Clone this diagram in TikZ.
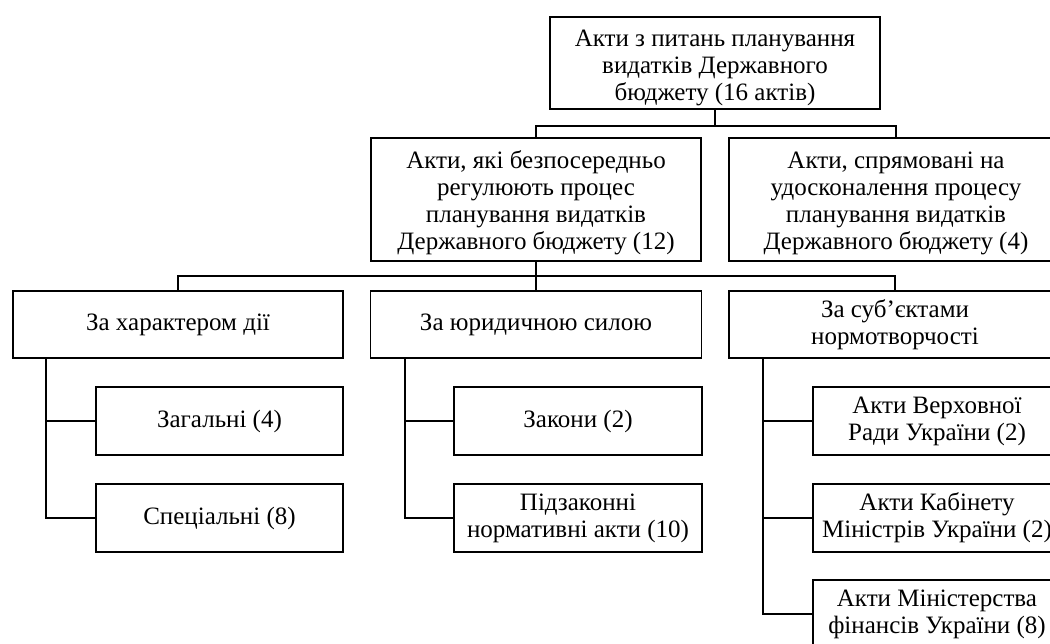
\documentclass[tikz,border=0pt]{standalone}
\usepackage{fontspec}
\setmainfont{Liberation Serif}
\newcommand{\droplines}[2]{\raisebox{-#1}[\height][\depth]{\begin{tabular}{@{}c@{}}#2\end{tabular}}}
\begin{document}
\begin{tikzpicture}[x=1pt,y=-1pt,
  box/.style={draw,line width=1.8pt,align=center,inner sep=0pt,font=\fontsize{25}{27}\selectfont},
  wire/.style={line width=1.8pt}]
\useasboundingbox (0,0) rectangle (1050,644);
\clip (0,0) rectangle (1050,644);
% level 1
\node[box,minimum width=330pt,minimum height=92pt] (top) at (715,63)
  {\droplines{5pt}{Акти з питань планування\\видатків Державного\\бюджету (16 актів)}};
% level 2
\node[box,minimum width=330pt,minimum height=123pt] (l2a) at (536,199.5)
  {\droplines{4pt}{Акти, які безпосередньо\\регулюють процес\\планування видатків\\Державного бюджету (12)}};
\node[box,minimum width=334pt,minimum height=123pt] (l2b) at (896,199.5)
  {\droplines{4pt}{Акти, спрямовані на\\удосконалення процесу\\планування видатків\\Державного бюджету (4)}};
% level 3
\node[box,minimum width=330pt,minimum height=67pt] (l3a) at (178,324.5) {За характером дії};
\node[box,minimum width=331pt,minimum height=67pt] (l3b) at (536,324.5) {За юридичною силою};
\node[box,minimum width=332pt,minimum height=67pt] (l3c) at (895,324.5) {За суб’єктами\\нормотворчості};
% leaves
\node[box,minimum width=247pt,minimum height=68pt] (a1) at (219.5,421) {Загальні (4)};
\node[box,minimum width=247pt,minimum height=68pt] (a2) at (219.5,518) {Спеціальні (8)};
\node[box,minimum width=248pt,minimum height=68pt] (b1) at (578,421) {Закони (2)};
\node[box,minimum width=248pt,minimum height=68pt] (b2) at (578,518) {Підзаконні\\нормативні акти (10)};
\node[box,minimum width=248pt,minimum height=68pt] (c1) at (937,421) {Акти Верховної\\Ради України (2)};
\node[box,minimum width=248pt,minimum height=68pt] (c2) at (937,518) {Акти Кабінету\\Міністрів України (2)};
\node[box,minimum width=248pt,minimum height=68pt] (c3) at (937,614) {Акти Міністерства\\фінансів України (8)};
% connectors
\coordinate (j1) at (715,126);
\draw[wire] (top.south) -- (j1);
\draw[wire] (l2a.north) |- (j1) -| (l2b.north);
\coordinate (j2) at (536,276);
\draw[wire] (l2a.south) -- (j2);
\draw[wire] (l3a.north) |- (j2) -| (l3c.north);
\draw[wire] (l3b.north) -- (j2);
\coordinate (sa) at (46,358);
\coordinate (sb) at (405,358);
\coordinate (sc) at (763,358);
\draw[wire] (sa) |- (a2.west);
\draw[wire] (sa |- a1.west) -- (a1.west);
\draw[wire] (sb) |- (b2.west);
\draw[wire] (sb |- b1.west) -- (b1.west);
\draw[wire] (sc) |- (c3.west);
\draw[wire] (sc |- c1.west) -- (c1.west);
\draw[wire] (sc |- c2.west) -- (c2.west);
\end{tikzpicture}
\end{document}
